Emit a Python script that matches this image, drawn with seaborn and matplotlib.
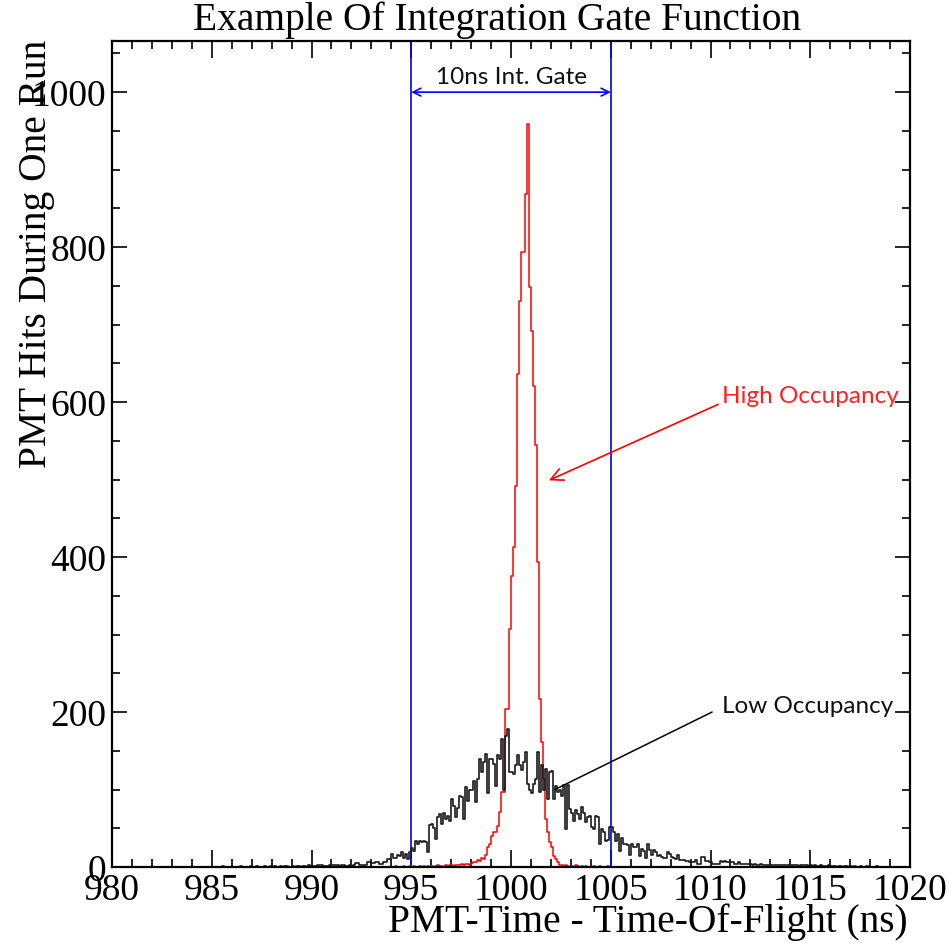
import numpy as np
import pandas as pd
import matplotlib
matplotlib.use("Agg")
import matplotlib.pyplot as plt
import seaborn as sns
from matplotlib.ticker import MultipleLocator

# ---------------- data ----------------
title = "Example Of Integration Gate Function"
x_label = "PMT-Time - Time-Of-Flight (ns)"
y_label = "PMT Hits During One Run"
x_ticks = [980, 985, 990, 995, 1000, 1005, 1010, 1015, 1020]
y_ticks = [0, 200, 400, 600, 800, 1000]

hist_start = 980.0
hist_stop = 1020.0
bin_width = 0.1

# counts per 0.1 ns bin, 980.0 ... 1019.9 (one row per ns)
low_occupancy = [
    0, 0, 0, 0, 0, 0, 0, 0, 0, 0,          # 980
    0, 0, 0, 0, 0, 0, 0, 0, 0, 0,          # 981
    0, 0, 0, 0, 0, 0, 0, 0, 0, 0,          # 982
    0, 0, 0, 0, 0, 0, 0, 0, 0, 0,          # 983
    0, 0, 0, 0, 0, 0, 0, 0, 0, 0,          # 984
    0, 0, 0, 0, 0, 1, 0, 0, 0, 0,          # 985
    0, 0, 0, 0, 1, 0, 0, 0, 0, 1,          # 986
    0, 0, 1, 0, 0, 0, 1, 0, 0, 1,          # 987
    0, 1, 0, 0, 1, 0, 1, 1, 0, 0,          # 988
    1, 0, 1, 1, 0, 1, 1, 0, 2, 1,          # 989
    1, 1, 1, 2, 3, 3, 1, 1, 1, 2,          # 990
    3, 2, 2, 2, 1, 2, 2, 1, 1, 2,          # 991
    1, 2, 5, 5, 3, 2, 2, 2, 7, 7,          # 992
    5, 5, 6, 6, 4, 4, 7, 7, 10, 10,        # 993
    17, 12, 12, 16, 14, 19, 11, 17, 10, 19,  # 994
    25, 21, 33, 30, 33, 32, 34, 32, 20, 54,  # 995
    55, 50, 36, 64, 68, 55, 70, 62, 66, 60,  # 996
    88, 79, 65, 76, 91, 90, 62, 103, 85, 100,  # 997
    100, 111, 84, 114, 140, 122, 135, 146, 96, 139,  # 998
    139, 133, 105, 144, 139, 165, 100, 169, 178, 122,  # 999
    122, 120, 131, 144, 131, 125, 135, 148, 107, 100,  # 1000
    96, 107, 113, 148, 97, 131, 100, 127, 88, 122,  # 1001
    124, 88, 104, 97, 100, 92, 106, 49, 106, 75,  # 1002
    70, 60, 73, 69, 62, 77, 70, 58, 64, 66,  # 1003
    52, 49, 66, 64, 30, 49, 45, 33, 35, 51,  # 1004
    51, 45, 33, 43, 21, 38, 30, 30, 28, 15,  # 1005
    30, 26, 26, 30, 14, 23, 21, 12, 30, 22,  # 1006
    16, 22, 20, 14, 15, 13, 12, 12, 19, 17,  # 1007
    13, 11, 10, 15, 9, 9, 9, 8, 8, 6,      # 1008
    6, 6, 9, 4, 4, 13, 13, 8, 8, 6,        # 1009
    6, 4, 4, 4, 4, 8, 6, 8, 6, 6,          # 1010
    6, 6, 4, 4, 6, 4, 4, 4, 4, 4,          # 1011
    4, 3, 4, 3, 3, 4, 3, 3, 2, 3,          # 1012
    3, 2, 3, 3, 2, 3, 2, 2, 3, 2,          # 1013
    2, 3, 2, 2, 1, 2, 2, 3, 2, 1,          # 1014
    2, 1, 2, 1, 1, 2, 1, 1, 1, 2,          # 1015
    1, 1, 1, 0, 1, 1, 0, 1, 1, 0,          # 1016
    1, 0, 1, 0, 0, 1, 0, 0, 1, 0,          # 1017
    0, 0, 0, 1, 0, 0, 0, 0, 0, 0,          # 1018
    0, 0, 0, 0, 0, 0, 0, 0, 0, 0,          # 1019
]

high_occupancy = [
    0, 0, 0, 0, 0, 0, 0, 0, 0, 0,          # 980
    0, 0, 0, 0, 0, 0, 0, 0, 0, 0,          # 981
    0, 0, 0, 0, 0, 0, 0, 0, 0, 0,          # 982
    0, 0, 0, 0, 0, 0, 0, 0, 0, 0,          # 983
    0, 0, 0, 0, 0, 0, 0, 0, 0, 0,          # 984
    0, 0, 0, 0, 0, 0, 0, 0, 0, 0,          # 985
    0, 0, 0, 0, 0, 0, 0, 0, 0, 0,          # 986
    0, 0, 0, 0, 0, 0, 0, 0, 0, 0,          # 987
    0, 0, 0, 0, 0, 0, 0, 0, 0, 0,          # 988
    0, 0, 0, 0, 0, 0, 0, 0, 0, 0,          # 989
    0, 0, 0, 0, 0, 0, 0, 0, 0, 0,          # 990
    0, 0, 0, 0, 0, 0, 0, 0, 0, 0,          # 991
    0, 0, 0, 0, 0, 0, 0, 0, 0, 0,          # 992
    0, 0, 0, 0, 0, 0, 0, 0, 0, 0,          # 993
    0, 0, 1, 0, 0, 0, 1, 0, 0, 1,          # 994
    0, 1, 0, 0, 1, 0, 1, 0, 1, 1,          # 995
    1, 0, 1, 2, 1, 1, 0, 2, 1, 2,          # 996
    2, 1, 3, 2, 3, 4, 3, 4, 4, 3,          # 997
    5, 7, 6, 9, 8, 12, 10, 15, 26, 30,     # 998
    40, 45, 45, 53, 71, 97, 97, 204, 204, 307,  # 999
    376, 413, 492, 636, 731, 794, 794, 868, 959, 748,  # 1000
    692, 621, 544, 393, 217, 161, 113, 62, 45, 32,  # 1001
    26, 14, 10, 6, 3, 2, 1, 2, 1, 0,       # 1002
    1, 0, 2, 1, 0, 1, 0, 1, 0, 0,          # 1003
    0, 1, 0, 0, 1, 0, 0, 0, 1, 0,          # 1004
    0, 0, 0, 0, 0, 0, 0, 0, 0, 0,          # 1005
    0, 0, 0, 0, 0, 0, 0, 0, 0, 0,          # 1006
    0, 0, 0, 0, 0, 0, 0, 0, 0, 0,          # 1007
    0, 0, 0, 0, 0, 0, 0, 0, 0, 0,          # 1008
    0, 0, 0, 0, 0, 0, 0, 0, 0, 0,          # 1009
    0, 0, 0, 0, 0, 0, 0, 0, 0, 0,          # 1010
    0, 0, 0, 0, 0, 0, 0, 0, 0, 0,          # 1011
    0, 0, 0, 0, 0, 0, 0, 0, 0, 0,          # 1012
    0, 0, 0, 0, 0, 0, 0, 0, 0, 0,          # 1013
    0, 0, 0, 0, 0, 0, 0, 0, 0, 0,          # 1014
    0, 0, 0, 0, 0, 0, 0, 0, 0, 0,          # 1015
    0, 0, 0, 0, 0, 0, 0, 0, 0, 0,          # 1016
    0, 0, 0, 0, 0, 0, 0, 0, 0, 0,          # 1017
    0, 0, 0, 0, 0, 0, 0, 0, 0, 0,          # 1018
    0, 0, 0, 0, 0, 0, 0, 0, 0, 0,          # 1019
]

gate_edges = [995, 1005]
gate_label = "10ns Int. Gate"
high_label = "High Occupancy"
low_label = "Low Occupancy"

# ---------------- figure ----------------
sns.set_style("ticks")
plt.rcParams["font.family"] = ["Liberation Serif", "DejaVu Serif"]
plt.rcParams["text.color"] = "black"
plt.rcParams["axes.labelcolor"] = "black"
plt.rcParams["xtick.color"] = "black"
plt.rcParams["ytick.color"] = "black"

fig = plt.figure(figsize=(9.51, 9.45), dpi=100)
ax = fig.add_axes([112 / 951, 1 - 868 / 945, (910 - 112) / 951, (868 - 42) / 945])

n_bins = len(low_occupancy)
centers = hist_start + bin_width * (np.arange(n_bins) + 0.5)
df = pd.DataFrame({"t": centers,
                   "high": np.asarray(high_occupancy, dtype=float),
                   "low": np.asarray(low_occupancy, dtype=float)})

sns.histplot(data=df, x="t", weights="high", binwidth=bin_width,
             binrange=(hist_start, hist_stop), element="step",
             fill=False, color="#ff0000", linewidth=1.1, ax=ax)
sns.histplot(data=df, x="t", weights="low", binwidth=bin_width,
             binrange=(hist_start, hist_stop), element="step",
             fill=False, color="#1a1a1a", linewidth=1.2, ax=ax)

ax.set_xlim(980, 1020)
ax.set_ylim(0, 1066)

# gate lines
for g in gate_edges:
    ax.axvline(g, color="#0000ff", linewidth=1.2, zorder=1)
ax.annotate("", xy=(gate_edges[0], 1000), xytext=(gate_edges[1], 1000),
            arrowprops=dict(arrowstyle="<->", color="#0000ff", lw=1.2,
                            mutation_scale=14, shrinkA=0, shrinkB=0))

note_font = dict(family=["Lato", "DejaVu Sans"], fontweight="normal", fontsize=17.5)
ax.text(1000.05, 1020, gate_label, ha="center", va="center", color="#111111", **note_font)
ax.text(1010.6, 608, high_label, ha="left", va="center", color="#ff2020", **note_font)
ax.text(1010.6, 208, low_label, ha="left", va="center", color="#111111", **note_font)

ax.annotate("", xy=(1001.9, 499), xytext=(1010.38, 597),
            arrowprops=dict(arrowstyle="->", color="#ff0000", lw=1.2,
                            mutation_scale=22, shrinkA=0, shrinkB=0))
ax.annotate("", xy=(1002.2, 100), xytext=(1010.08, 200),
            arrowprops=dict(arrowstyle="-", color="black", lw=1.1,
                            shrinkA=0, shrinkB=0))

# axes styling (ROOT-like)
ax.set_xticks(x_ticks)
ax.set_yticks(y_ticks)
ax.xaxis.set_minor_locator(MultipleLocator(1))
ax.yaxis.set_minor_locator(MultipleLocator(50))
ax.tick_params(axis="both", which="both", direction="in", top=True, right=True,
               labelsize=27, width=1.2, colors="black")
ax.tick_params(axis="x", which="major", length=12, pad=4)
ax.tick_params(axis="x", which="minor", length=6)
ax.tick_params(axis="y", which="major", length=11, pad=4)
ax.tick_params(axis="y", which="minor", length=5.5)
for s in ax.spines.values():
    s.set_linewidth(1.6)
    s.set_color("black")
ax.set_xlabel("")
ax.set_ylabel("")

fig.text(497 / 951, 1 - 20 / 945, title, ha="center", va="center", fontsize=28.4, color="black")
fig.text(908 / 951, 1 - 922 / 945, x_label, ha="right", va="center", fontsize=28.4, color="black")
fig.text(37 / 951, 1 - 40 / 945, y_label, ha="center", va="top", rotation=90, fontsize=28.4, color="black")

fig.savefig("out.png", dpi=100)
